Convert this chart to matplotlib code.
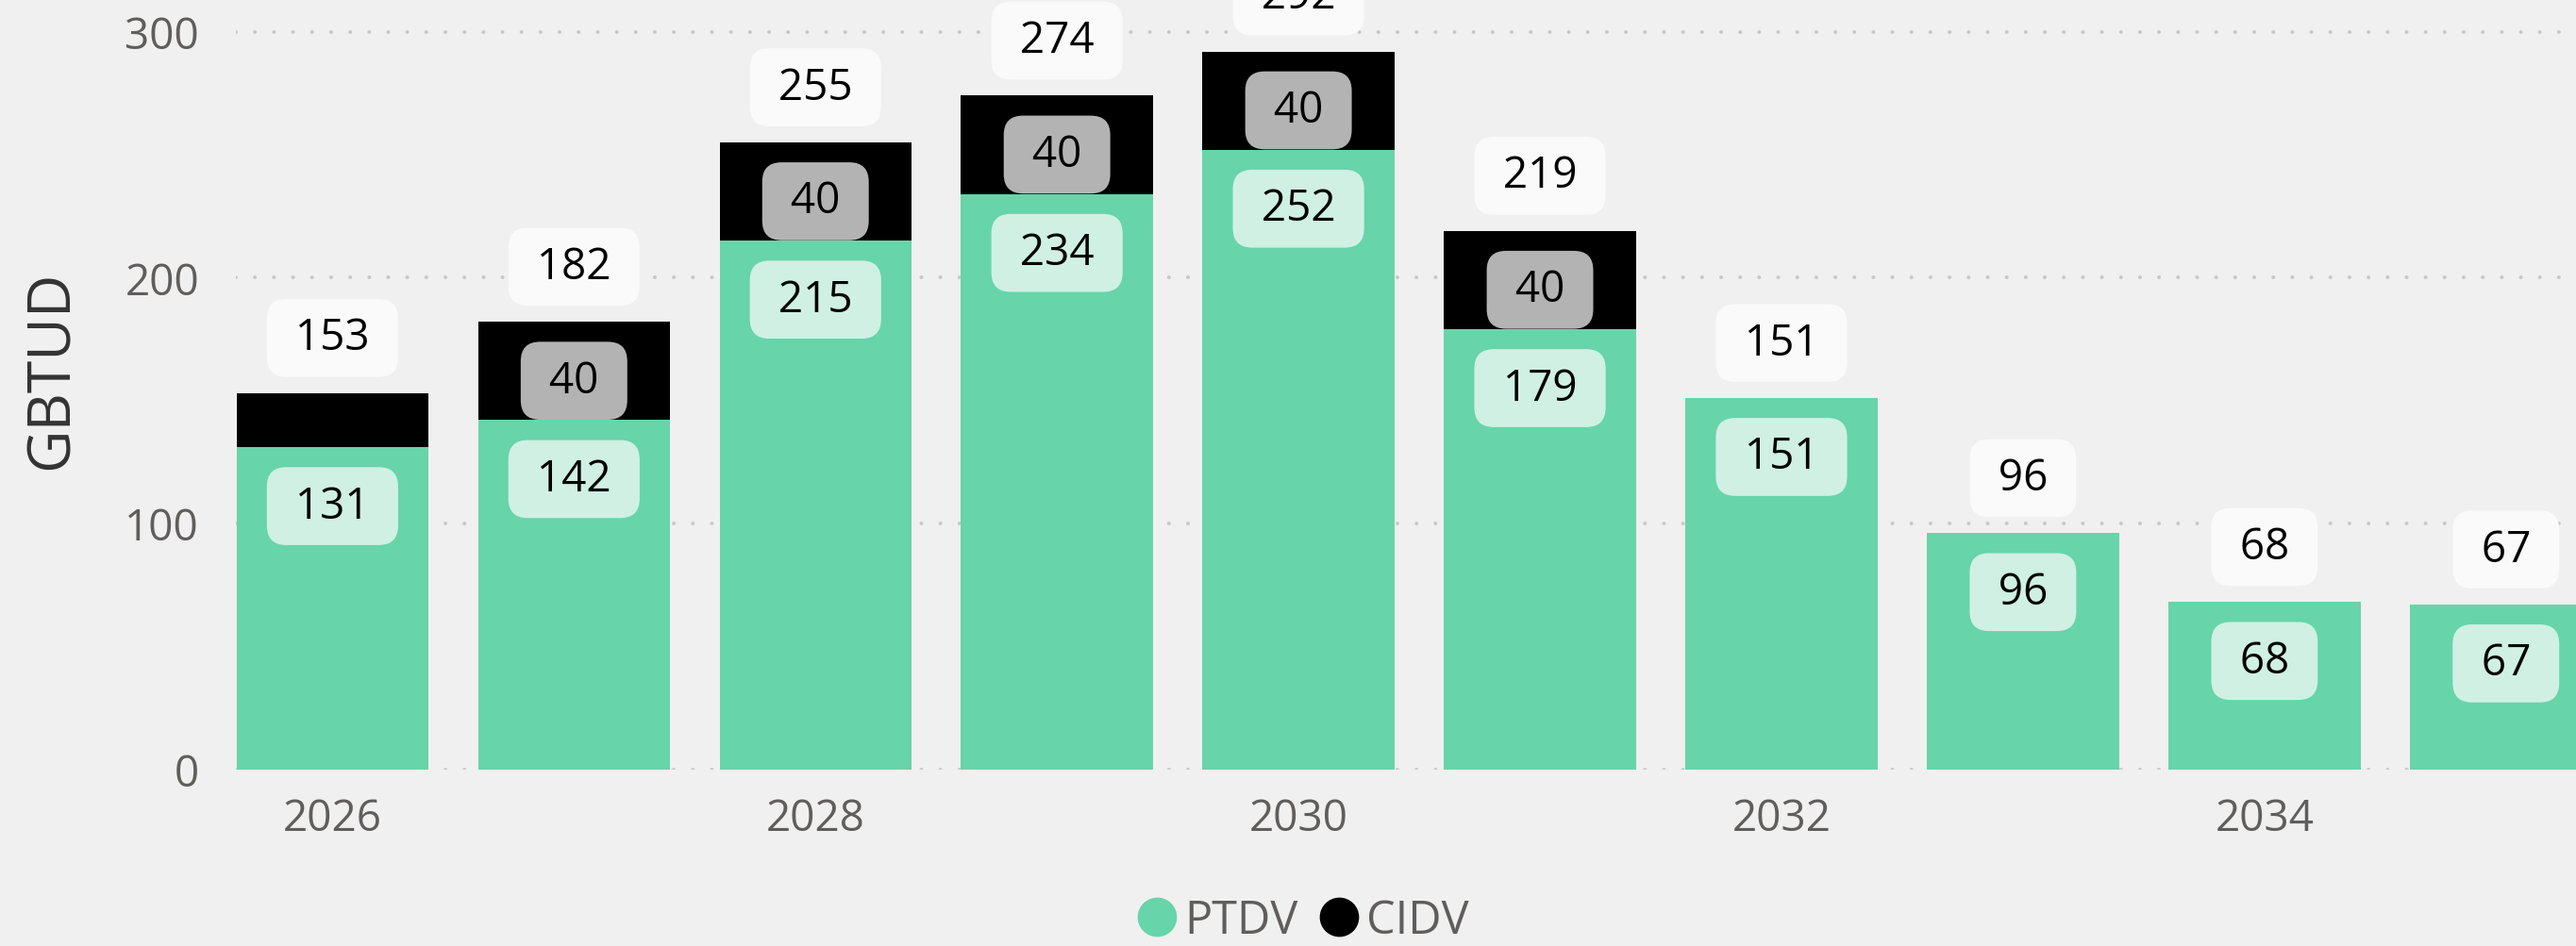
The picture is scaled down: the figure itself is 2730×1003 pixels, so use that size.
import numpy as np
import matplotlib.pyplot as plt
from matplotlib.lines import Line2D

# data
years = [2026, 2027, 2028, 2029, 2030, 2031, 2032, 2033, 2034, 2035]
ptdv = [131, 142, 215, 234, 252, 179, 151, 96, 68, 67]
cidv = [22, 40, 40, 40, 40, 40, 0, 0, 0, 0]
totals = [153, 182, 255, 274, 292, 219, 151, 96, 68, 67]
year_ticks = [2026, 2028, 2030, 2032, 2034]
y_ticks = [0, 100, 200, 300]

GREEN = '#67D4AA'
BG = '#F0F0F0'
GREY_TXT = '#605E5C'

plt.rcParams['font.family'] = ['Open Sans', 'DejaVu Sans']

W, H = 2730, 1004
fig = plt.figure(figsize=(W / 100, H / 100), dpi=100)
fig.patch.set_facecolor(BG)
ax = fig.add_axes([250 / W, 187.5 / H, 1 - 250 / W, 1 - 187.5 / H])
ax.set_facecolor(BG)

# dotted gridlines
for yv in y_ticks:
    ax.axhline(yv, color='#C8C8C8', lw=2.9, linestyle=(0, (0.01, 5)),
               dash_capstyle='round', zorder=0)

x = np.array(years)
ax.bar(x, ptdv, width=0.795, color=GREEN, zorder=2)
ax.bar(x, cidv, bottom=ptdv, width=0.795, color='black', zorder=2)

ax.set_xlim(2025.6, 2035.29)
ax.set_ylim(0, 313.3)

box_kw = dict(boxstyle='round,pad=0.4,rounding_size=0.45', lw=0)


def label(val, xy, dy, fc):
    # value label in a rounded box, padded with spaces for the wider look
    ax.annotate(' %d ' % val, xy, xytext=(0, dy), textcoords='offset points',
                ha='center', va='center', fontsize=33, color='black', zorder=5,
                bbox=dict(fc=fc, **box_kw))


for xi, p, c, t in zip(years, ptdv, cidv, totals):
    label(t, (xi, t), 42, '#FAFAFA')
    label(p, (xi, p), -45, '#D0F0E4')
    if c >= 30:
        label(c, (xi, t), -45, '#B3B3B3')

ax.set_xticks(year_ticks)
ax.set_xticklabels([str(y) for y in year_ticks])
ax.set_yticks(y_ticks)
ax.tick_params(axis='both', length=0, labelsize=33, labelcolor=GREY_TXT)
ax.tick_params(axis='x', pad=21)
ax.tick_params(axis='y', pad=28)
for s in ax.spines.values():
    s.set_visible(False)

fig.text(55 / W, 1 - 392 / H, 'GBTUD', rotation=90, ha='center', va='center',
         fontsize=45, color='#333333')

handles = [Line2D([], [], marker='o', ls='', markersize=29, color=GREEN),
           Line2D([], [], marker='o', ls='', markersize=29, color='black')]
fig.legend(handles, ['PTDV', 'CIDV'], loc='center', ncol=2,
           bbox_to_anchor=(1379 / W, 1 - 977 / H), frameon=False,
           fontsize=35, labelcolor=GREY_TXT, handletextpad=0.1,
           columnspacing=0.4, handlelength=1.0)

fig.savefig('out.png', dpi=100, facecolor=BG)
